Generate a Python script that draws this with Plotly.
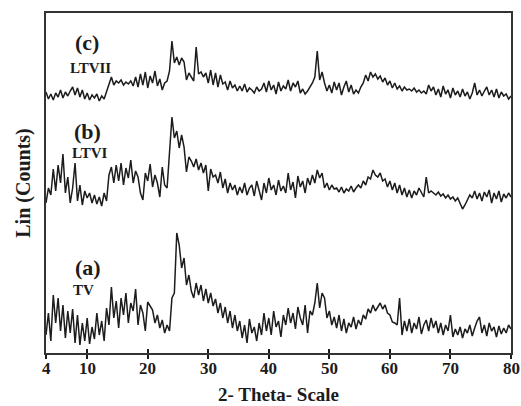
import numpy as np
import plotly.graph_objects as go

# 2-theta scan grid (0.4 deg step)
two_theta = np.round(3.2 + 0.4 * np.arange(193), 2)

# Stacked intensities (arbitrary counts, offsets included)
ltvii = [
    261, 254, 259, 253, 260, 256, 263, 255, 261, 257,
    262, 266, 258, 265, 256, 263, 254, 260, 253, 258,
    255, 259, 252, 257, 254, 262, 270, 276, 268, 272,
    270, 273, 268, 271, 269, 272, 267, 276, 266, 279,
    268, 281, 265, 277, 270, 282, 267, 274, 263, 270,
    272, 282, 312, 290, 296, 288, 295, 291, 273, 280,
    276, 272, 306, 279, 281, 276, 280, 270, 283, 268,
    280, 266, 278, 269, 271, 263, 272, 265, 268, 262,
    267, 262, 269, 261, 265, 263, 260, 266, 262, 264,
    270, 261, 272, 263, 268, 259, 271, 262, 267, 264,
    273, 262, 270, 266, 272, 260, 264, 259, 262, 266,
    270, 276, 302, 273, 281, 270, 262, 268, 260, 271,
    263, 270, 258, 266, 272, 261, 268, 259, 263, 260,
    266, 270, 278, 272, 281, 276, 279, 274, 277, 271,
    275, 268, 272, 265, 270, 264, 267, 262, 266, 263,
    264, 262, 265, 261, 263, 260, 262, 259, 268, 262,
    266, 258, 264, 256, 267, 259, 263, 255, 265, 258,
    262, 256, 264, 257, 261, 254, 260, 270, 258, 263,
    257, 262, 266, 258, 263, 256, 264, 255, 261, 257,
    259, 254, 257,
]

ltvi = [
    150, 165, 158, 184, 162, 188, 170, 199, 160, 176,
    150, 165, 190, 152, 168, 148, 162, 155, 160, 150,
    158, 149, 156, 147, 160, 152, 178, 186, 170, 188,
    172, 190, 168, 185, 175, 193, 170, 182, 176, 160,
    153, 180, 172, 189, 166, 178, 170, 156, 186, 168,
    165, 200, 236, 215, 222, 205, 218, 206, 181, 196,
    192, 186, 194, 183, 190, 180, 188, 162, 184, 176,
    178, 170, 181, 165, 174, 160, 170, 163, 168, 158,
    166, 160, 170, 158, 165, 168, 157, 172, 162, 153,
    170, 160, 175, 163, 168, 158, 173, 162, 167, 160,
    180, 163, 171, 155, 177, 166, 172, 160, 175, 168,
    178, 170, 183, 175, 180, 165, 170, 163, 168, 164,
    165, 161, 166, 160, 164, 162, 167, 161, 165, 168,
    165, 172, 168, 176, 174, 183, 178, 176, 180, 172,
    174, 166, 172, 163, 170, 160, 168, 158, 165, 156,
    163, 155, 162, 158, 165, 160, 156, 176, 160, 162,
    160, 158, 161, 157, 159, 155, 158, 154, 156, 152,
    155, 149, 144, 148, 153, 158, 155, 162, 154, 160,
    152, 161, 156, 163, 150, 160, 154, 162, 151, 159,
    155, 160, 156,
]

tv = [
    18, 40, 12, 58, 30, 55, 22, 48, 15, 42,
    20, 44, 10, 38, 8, 30, 12, 35, 9, 26,
    14, 40, 18, 32, 12, 45, 28, 66, 35, 52,
    25, 55, 38, 60, 30, 50, 42, 64, 28, 48,
    40, 22, 51, 47, 43, 30, 38, 25, 33, 20,
    28, 22, 55, 60, 120, 108, 85, 95, 68, 78,
    62, 55, 70, 58, 68, 52, 64, 50, 60, 47,
    54, 40, 50, 35, 46, 30, 42, 25, 38, 22,
    32, 15, 28, 10, 34, 20, 26, 12, 30, 18,
    40, 22, 35, 18, 42, 26, 32, 16, 38, 28,
    45, 30, 40, 24, 46, 35, 28, 48, 20, 42,
    38, 50, 70, 45, 60, 55, 35, 42, 28, 36,
    25, 38, 22, 34, 20, 30, 26, 36, 24, 33,
    28, 38, 34, 44, 40, 48, 42, 46, 50, 44,
    48, 40, 38, 31, 30, 28, 55, 18, 32, 22,
    34, 20, 30, 24, 36, 19, 28, 33, 22, 35,
    25, 32, 20, 30, 18, 28, 22, 38, 16, 24,
    18, 26, 15, 24, 20, 28, 17, 25, 32, 36,
    20, 28, 17, 30, 22, 26, 16, 27, 19, 25,
    20, 28, 24,
]

tick_vals = [3.2, 10, 20, 30, 40, 50, 60, 70, 80]
tick_text = ["4", "10", "20", "30", "40", "50", "60", "70", "80"]

labels = [
    ("(c)", 10.05, 311, 22), ("LTVII", 10.6, 285.5, 15),
    ("(b)", 10.1, 222, 22), ("LTVI", 10.4, 200, 15),
    ("(a)", 10.1, 86, 22), ("TV", 9.4, 63, 15),
]

serif = "Liberation Serif, Times New Roman, serif"
ink = "#1c1c1c"

fig = go.Figure()
for ys in (tv, ltvi, ltvii):
    fig.add_trace(go.Scatter(x=two_theta, y=ys, mode="lines",
                             line=dict(color=ink, width=1.5),
                             showlegend=False, hoverinfo="skip"))
# carrier trace for the inward tick overlay
fig.add_trace(go.Scatter(x=[3.2], y=[0], xaxis="x2", mode="markers",
                         marker=dict(opacity=0), showlegend=False,
                         hoverinfo="skip"))

for text, x, y, size in labels:
    fig.add_annotation(x=x, y=y, text="<b>%s</b>" % text, showarrow=False,
                       font=dict(family=serif, size=size, color=ink),
                       xanchor="center", yanchor="middle")

# tick labels set just under the axis line
for tv_, tt in zip(tick_vals, tick_text):
    fig.add_annotation(x=tv_, y=-0.047, xref="x", yref="paper",
                       text="<b>%s</b>" % tt, showarrow=False,
                       xanchor="center", yanchor="middle",
                       font=dict(family=serif, size=17, color=ink))

# x-axis title below the tick labels
fig.add_annotation(x=0.5, y=-0.1235, xref="paper", yref="paper",
                   text="<b>2- Theta- Scale</b>", showarrow=False,
                   xanchor="center", yanchor="middle",
                   font=dict(family=serif, size=19, color=ink))

fig.update_layout(
    width=521, height=406,
    margin=dict(l=46, r=10, t=13, b=53),
    paper_bgcolor="white", plot_bgcolor="white",
    xaxis=dict(range=[3.2, 80], tickvals=tick_vals, showticklabels=False,
               ticks="outside", ticklen=4, tickwidth=1.5, tickcolor=ink,
               automargin=False,
               showline=True, linecolor="#333", linewidth=1.5, mirror=True,
               showgrid=False, zeroline=False),
    xaxis2=dict(overlaying="x", anchor="y", side="bottom", range=[3.2, 80],
                tickvals=tick_vals, ticks="inside", ticklen=4, tickwidth=1.5,
                tickcolor=ink, showticklabels=False, showline=False,
                showgrid=False, zeroline=False, automargin=False),
    yaxis=dict(range=[0, 340], showticklabels=False, ticks="",
               showline=True, linecolor="#333", linewidth=1.5, mirror=True,
               showgrid=False, zeroline=False, automargin=False,
               title=dict(text="<b>Lin (Counts)</b>", standoff=8,
                          font=dict(family=serif, size=20, color=ink))),
)

fig.write_html("out.html")
